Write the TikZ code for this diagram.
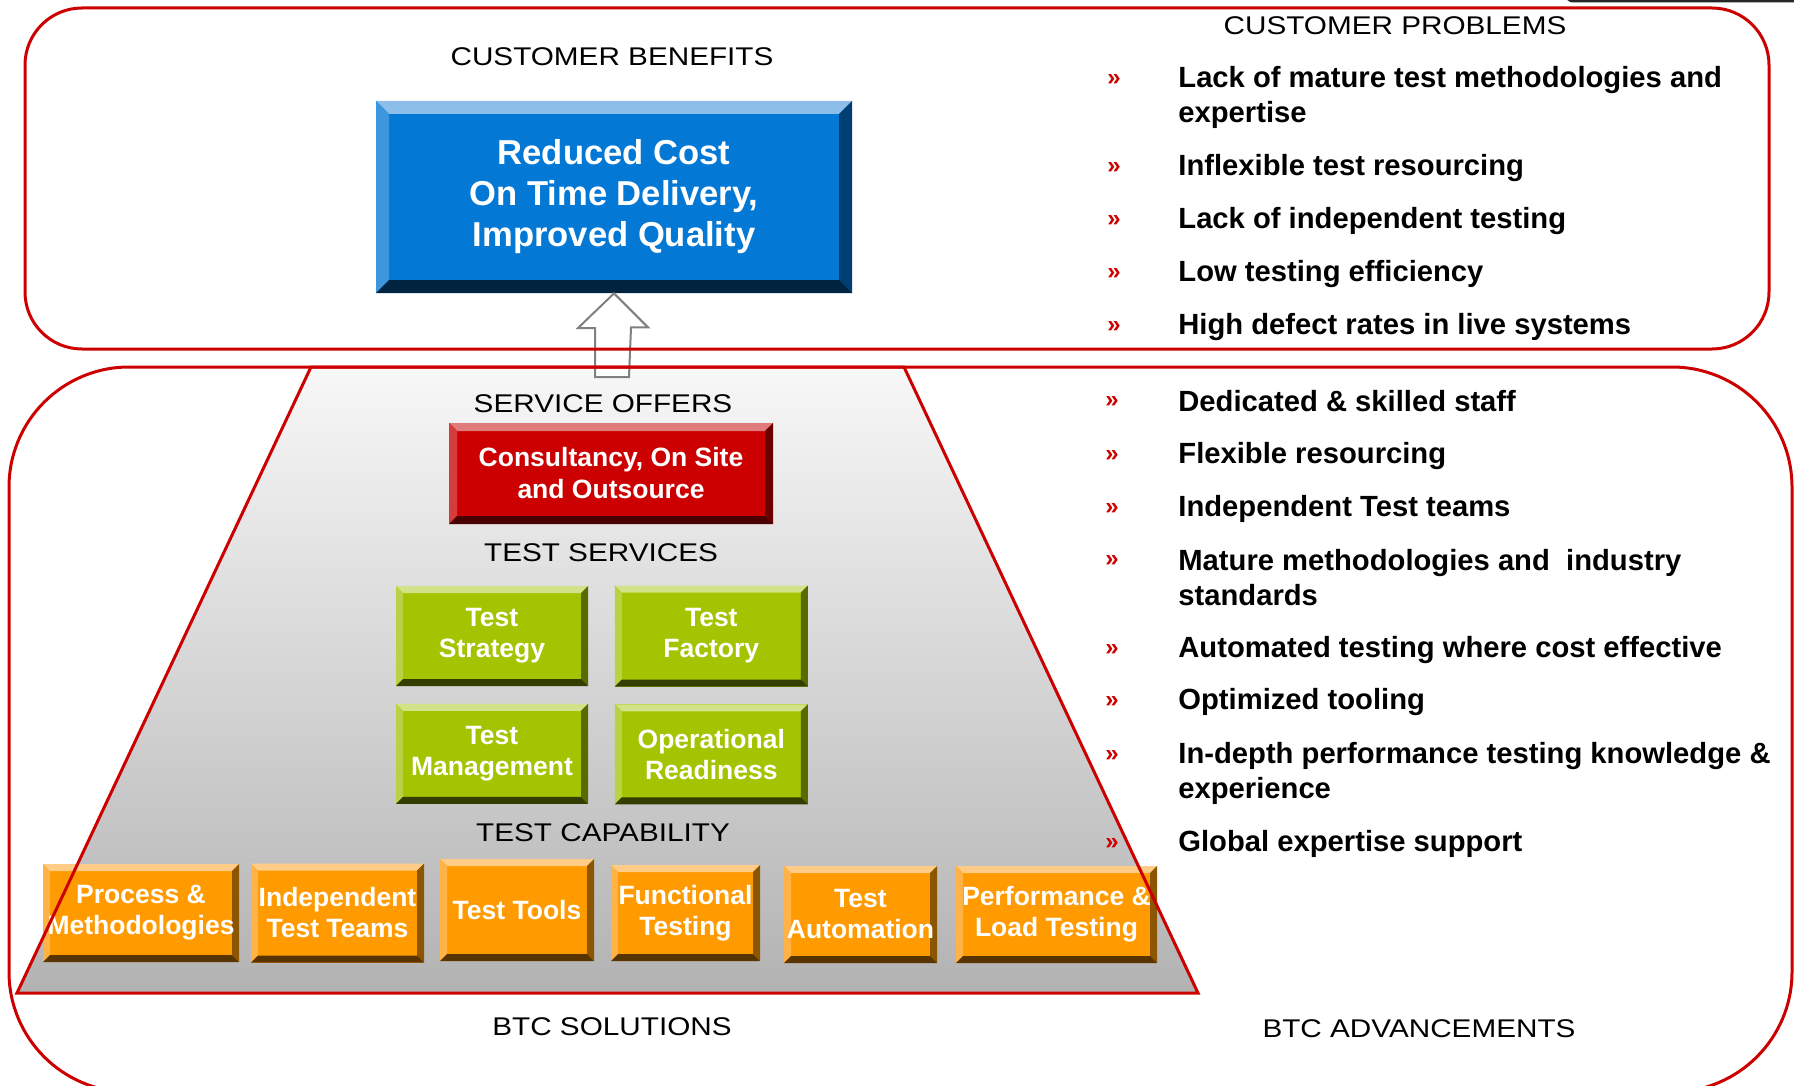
\documentclass[tikz,border=0pt]{standalone}
\usepackage{fontspec}
\setmainfont{Liberation Sans}
\newfontfamily\headfont[FakeStretch=1.16]{Liberation Sans}
\usetikzlibrary{positioning}
\definecolor{linered}{RGB}{204,0,0}
\definecolor{arrowgrey}{RGB}{128,128,128}
% bevel colours: f face, t top, l left, r right, b bottom
\definecolor{bluef}{RGB}{3,120,212}
\definecolor{bluet}{RGB}{140,190,233}
\definecolor{bluel}{RGB}{62,151,221}
\definecolor{bluer}{RGB}{0,63,116}
\definecolor{blueb}{RGB}{0,36,64}
\definecolor{redf}{RGB}{204,0,0}
\definecolor{redt}{RGB}{224,124,124}
\definecolor{redl}{RGB}{214,60,60}
\definecolor{redr}{RGB}{106,0,0}
\definecolor{redb}{RGB}{74,0,0}
\definecolor{greenf}{RGB}{164,195,0}
\definecolor{greent}{RGB}{210,226,136}
\definecolor{greenl}{RGB}{184,210,70}
\definecolor{greenr}{RGB}{88,106,0}
\definecolor{greenb}{RGB}{52,62,0}
\definecolor{orangef}{RGB}{255,154,0}
\definecolor{oranget}{RGB}{255,204,136}
\definecolor{orangel}{RGB}{255,178,70}
\definecolor{oranger}{RGB}{140,85,0}
\definecolor{orangeb}{RGB}{88,52,0}

\tikzset{
  bevelbox/.style 2 args={rectangle, inner sep=0pt, fill=#1f, text=white, align=center,
    font=\bfseries\fontsize{13.25}{15.5}\selectfont,
    path picture={
      \fill[#1t] (path picture bounding box.north west) -- (path picture bounding box.north east)
        -- ([shift={(-#2,-#2)}]path picture bounding box.north east) -- ([shift={(#2,-#2)}]path picture bounding box.north west) -- cycle;
      \fill[#1l] (path picture bounding box.north west) -- ([shift={(#2,-#2)}]path picture bounding box.north west)
        -- ([shift={(#2,#2)}]path picture bounding box.south west) -- (path picture bounding box.south west) -- cycle;
      \fill[#1r] (path picture bounding box.north east) -- ([shift={(-#2,-#2)}]path picture bounding box.north east)
        -- ([shift={(-#2,#2)}]path picture bounding box.south east) -- (path picture bounding box.south east) -- cycle;
      \fill[#1b] (path picture bounding box.south west) -- ([shift={(#2,#2)}]path picture bounding box.south west)
        -- ([shift={(-#2,#2)}]path picture bounding box.south east) -- (path picture bounding box.south east) -- cycle;
    }},
  heading/.style={inner sep=0pt, font=\headfont\fontsize{12.8}{15}\selectfont},
  item/.style={anchor=west, align=left, inner sep=0pt, font=\bfseries\fontsize{14.6}{17.5}\selectfont},
  chevron/.style={inner sep=0pt, text=linered, font=\bfseries\fontsize{12}{13}\selectfont},
  frame/.style={draw=linered, line width=1.5pt}
}

\begin{document}
\begin{tikzpicture}[x=0.5pt, y=-0.5pt]
\useasboundingbox (0,0) rectangle (1794,1086);

% pyramid of solutions
\shade[top color=white!97!black, bottom color=black!30] (311,367) -- (904,367) -- (1198,993) -- (17,993) -- cycle;

% boxes
\node[bevelbox={blue}{6.5pt}, minimum width=238pt, minimum height=96pt, font=\bfseries\fontsize{17.3}{20.5}\selectfont] (benefit) at (614,197) {Reduced Cost\\On Time Delivery,\\Improved Quality};
\node[bevelbox={red}{4pt}, minimum width=162pt, minimum height=50.5pt, font=\bfseries\fontsize{13.25}{16}\selectfont] (offer) at (611,473.5) {Consultancy, On Site\\and Outsource};

\node[bevelbox={green}{3.5pt}, minimum width=96pt, minimum height=50pt] (strategy) at (492,636) {Test\\Strategy};
\node[bevelbox={green}{3.5pt}, minimum width=96.5pt, minimum height=50.5pt, right=13pt of strategy] (factory) {Test\\Factory};
\node[bevelbox={green}{3.5pt}, minimum width=96pt, minimum height=50pt, below=8.5pt of strategy] (management) {Test\\Management};
\node[bevelbox={green}{3.5pt}, minimum width=96.5pt, minimum height=50pt, below=8.5pt of factory] (readiness) {Operational\\Readiness};

\node[bevelbox={orange}{3.5pt}, minimum width=98pt, minimum height=49pt] (process) at (141,913) {Process \&\\Methodologies};
\node[bevelbox={orange}{3.5pt}, minimum width=86.5pt, minimum height=49.5pt] (teams) at (337.5,913) {Independent\\Test Teams};
\node[bevelbox={orange}{3.5pt}, minimum width=77pt, minimum height=51pt] (tools) at (517,910) {Test Tools};
\node[bevelbox={orange}{3.5pt}, minimum width=74.5pt, minimum height=48pt] (functional) at (685.5,913) {Functional\\Testing};
\node[bevelbox={orange}{3.5pt}, minimum width=76.5pt, minimum height=48.5pt] (automation) at (860.5,914.5) {Test\\Automation};
\node[bevelbox={orange}{3.5pt}, minimum width=100.5pt, minimum height=48.5pt] (performance) at (1056.5,914.5) {Performance \&\\Load Testing};

% hollow arrow up to the benefits
\coordinate (tail) at (612,377);
\filldraw[fill=white, draw=arrowgrey, line width=1pt] (benefit.south) -- ++(34,34) -- ++(-17,0) -- ([xshift=8.5pt]tail)
  -- ([xshift=-8.5pt]tail) -- ++(0,-49) -- ++(-17,0) -- cycle;

% frames
\draw[frame, rounded corners=28.5pt] (25,8) rectangle (1769,349);
\draw[frame, rounded corners=60pt] (9,367) rectangle (1792,1092);
\draw[frame, line join=miter] (311,367) -- (904,367) -- (1198,993) -- (17,993) -- cycle;
\draw[black!85, line width=1.5pt, rounded corners=3pt] (1567,-10) -- (1567,1) -- (1800,1);

% headings
\node[heading] (hbenefits) at (612,57) {CUSTOMER BENEFITS};
\node[heading] (hproblems) at (1395,26) {CUSTOMER PROBLEMS};
\node[heading] (hoffers) at (603,404) {SERVICE OFFERS};
\node[heading] (hservices) at (601,553) {TEST SERVICES};
\node[heading] (hcapability) at (603,833) {TEST CAPABILITY};
\node[heading] (hsolutions) at (612,1027) {BTC SOLUTIONS};
\node[heading] (hadvance) at (1419,1029) {BTC ADVANCEMENTS};

% customer problems
\node[item] (p1) at (1178,97) {Lack of mature test methodologies and\\expertise};
\node[item] (p2) at (1178,168) {Inflexible test resourcing};
\node[item] (p3) at (1178,221) {Lack of independent testing};
\node[item] (p4) at (1178,274) {Low testing efficiency};
\node[item] (p5) at (1178,327) {High defect rates in live systems};
\foreach \y [count=\i] in {78,166,219,272,325}
  \node[chevron] (pb\i) at (1114,\y+2) {»};

% advancements
\node[item] (a1) at (1178,401) {Dedicated \& skilled staff};
\node[item] (a2) at (1178,456) {Flexible resourcing};
\node[item] (a3) at (1178,509) {Independent Test teams};
\node[item] (a4) at (1178,578) {Mature methodologies and \ industry\\standards};
\node[item] (a5) at (1178,650) {Automated testing where cost effective};
\node[item] (a6) at (1178,702) {Optimized tooling};
\node[item] (a7) at (1178,773) {In-depth performance testing knowledge \&\\experience};
\node[item] (a8) at (1178,844) {Global expertise support};
\foreach \y [count=\i] in {400,454,507,559,648,700,754,842}
  \node[chevron] (ab\i) at (1112,\y+2) {»};

\end{tikzpicture}
\end{document}
